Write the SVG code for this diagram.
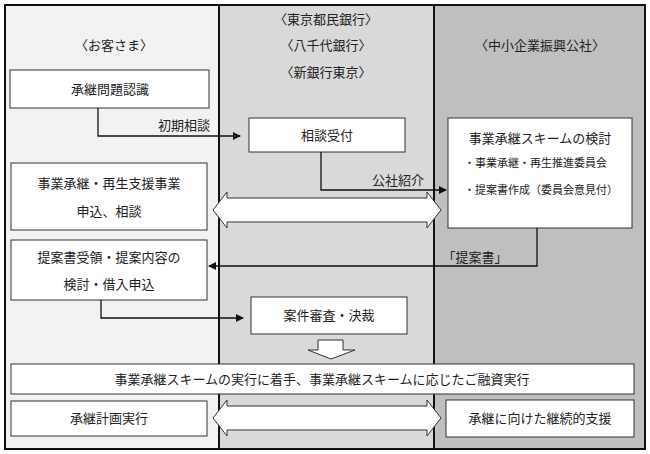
<svg xmlns="http://www.w3.org/2000/svg" width="650" height="454" viewBox="0 0 650 454">
<style>
text{font-family:"Liberation Serif","Noto Sans CJK JP",serif;font-size:13px;fill:#222;text-anchor:middle}
.b{fill:#fff;stroke:#333;stroke-width:1}
.c{fill:none;stroke:#111;stroke-width:1.3}
.w{fill:#fff;stroke:#333;stroke-width:1}
</style>
<defs><marker id="a" markerWidth="8" markerHeight="8" refX="7" refY="4" orient="auto" markerUnits="userSpaceOnUse"><path d="M0,0 L8,4 L0,8z" fill="#111"/></marker></defs>
<rect x="5" y="5" width="214" height="444" fill="#f2f2f2"/>
<rect x="219" y="5" width="215" height="444" fill="#d9d9d9"/>
<rect x="434" y="5" width="211" height="444" fill="#bfbfbf"/>
<rect x="5" y="5" width="640" height="444" fill="none" stroke="#111" stroke-width="2"/>
<line x1="219" y1="5" x2="219" y2="449" stroke="#111" stroke-width="2"/>
<line x1="434" y1="5" x2="434" y2="449" stroke="#111" stroke-width="2"/>
<text x="114" y="50">〈お客さま〉</text>
<text x="326" y="24">〈東京都民銀行〉</text>
<text x="326" y="50">〈八千代銀行〉</text>
<text x="326" y="77">〈新銀行東京〉</text>
<text x="540" y="50">〈中小企業振興公社〉</text>
<g id="n1"><rect class="b" x="10" y="70" width="199" height="38"/><text x="110" y="94">承継問題認識</text></g>
<g id="n2"><rect class="b" x="249" y="118" width="156" height="34"/><text x="327" y="140">相談受付</text></g>
<g id="n3"><rect class="b" x="448" y="118" width="184" height="110"/><text x="540" y="143">事業承継スキームの検討</text><text x="464" y="167" style="text-anchor:start;font-size:11px">・事業承継・再生推進委員会</text><text x="464" y="194" style="text-anchor:start;font-size:11px">・提案書作成（委員会意見付）</text></g>
<g id="n4"><rect class="b" x="11" y="163" width="196" height="67"/><text x="109" y="188">事業承継・再生支援事業</text><text x="109" y="216">申込、相談</text></g>
<g id="n5"><rect class="b" x="11" y="240" width="196" height="60"/><text x="109" y="262">提案書受領・提案内容の</text><text x="109" y="289">検討・借入申込</text></g>
<g id="n6"><rect class="b" x="251" y="297" width="156" height="37"/><text x="329" y="320">案件審査・決裁</text></g>
<g id="n7"><rect class="b" x="11" y="364" width="623" height="30"/><text x="322" y="384">事業承継スキームの実行に着手、事業承継スキームに応じたご融資実行</text></g>
<g id="n8"><rect class="b" x="11" y="401" width="196" height="35"/><text x="109" y="423">承継計画実行</text></g>
<g id="n9"><rect class="b" x="446" y="400" width="188" height="37"/><text x="540" y="423">承継に向けた継続的支援</text></g>
<g id="connectors">
<polyline class="c" points="98,108 98,136 240,136" marker-end="url(#a)"/>
<text x="184" y="130">初期相談</text>
<polyline class="c" points="321,152 321,190 446,190" marker-end="url(#a)"/>
<text x="398" y="185">公社紹介</text>
<polyline class="c" points="537,228 537,266 209,266" marker-end="url(#a)"/>
<text x="475" y="262">「提案書」</text>
<polyline class="c" points="101,300 101,318 243,318" marker-end="url(#a)"/>
<path class="w" d="M213,210 L227,192 L227,198 L427,198 L427,192 L441,210 L427,228 L427,222 L227,222 L227,228 Z"/>
<path class="w" d="M213,418 L227,400 L227,406 L427,406 L427,400 L441,418 L427,436 L427,430 L227,430 L227,436 Z"/>
<path class="w" d="M318,340 L343,340 L343,350 L355,350 L331,359 L308,350 L318,350 Z"/>
</g>
</svg>
